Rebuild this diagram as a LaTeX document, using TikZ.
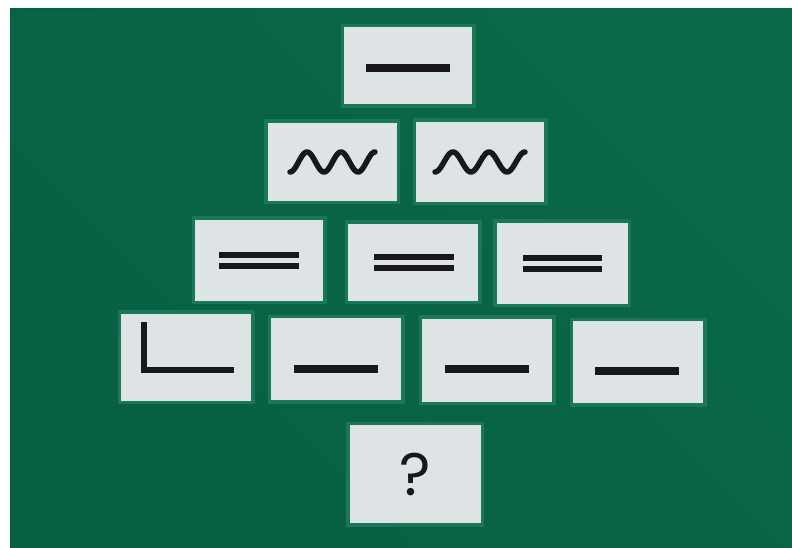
\documentclass[tikz,border=0pt]{standalone}
\usepackage{tikz}
\usepackage{fontspec}
\usetikzlibrary{calc,positioning}

\newfontfamily\askfont{Poppins}

\definecolor{board}{RGB}{10,104,72}
\definecolor{boarddark}{RGB}{6,84,60}
\definecolor{cardrim}{RGB}{26,120,86}
\definecolor{cardwhite}{RGB}{222,227,230}
\definecolor{ink}{RGB}{24,24,28}

\tikzset{
  card/.style={fill=cardwhite, inner sep=0pt,
    preaction={draw=cardrim, line width=7pt, rounded corners=4pt}},
  symbol/.style={ink, line width=7.5pt},
  thinsymbol/.style={ink, line width=5.5pt, line cap=round, line join=round}
}

\begin{document}
\begin{tikzpicture}[x=1pt,y=-1pt]
      \useasboundingbox (0,0) rectangle (792,548);
      \fill[white] (0,0) rectangle (792,548);
      \shade[left color=boarddark, right color=board, shading angle=135] (10,9) rectangle (792,548);
      \fill[board, opacity=.6] (10,9) rectangle (792,548);

      % top row
      \node[card, minimum width=128pt, minimum height=77pt] (cTop) at (408,66) {};
      \draw[symbol] ($(cTop)+(-42,2)$) -- ($(cTop)+(42,2)$);

      % waves
      \node[card, minimum width=129pt, minimum height=78pt] (cWaveL) at (332,162) {};
      \node[card, minimum width=128pt, minimum height=80pt] (cWaveR) at (480,162) {};
      \begin{scope}[shift={(cWaveL)}]
        \draw[thinsymbol] plot[domain=-42:43, samples=80] (\x,{10*cos((\x+42)*10.588)});
      \end{scope}
      \begin{scope}[shift={(cWaveR)}]
        \draw[thinsymbol] plot[domain=-45:45, samples=80] (\x,{10*cos((\x+45)*10)});
      \end{scope}

      % double lines
      \node[card, minimum width=128pt, minimum height=81pt] (cDblL) at (259,260) {};
      \node[card, minimum width=130pt, minimum height=77pt] (cDblM) at (413,262) {};
      \node[card, minimum width=131pt, minimum height=81pt] (cDblR) at (562,263) {};
      \draw[ink, line width=5.5pt] ($(cDblL)+(-40,-5)$) -- ($(cDblL)+(40,-5)$);
      \draw[ink, line width=5.5pt] ($(cDblL)+(-40,6)$) -- ($(cDblL)+(40,6)$);
      \draw[ink, line width=5.5pt] ($(cDblM)+(-39,-5)$) -- ($(cDblM)+(41,-5)$);
      \draw[ink, line width=5.5pt] ($(cDblM)+(-39,6)$) -- ($(cDblM)+(41,6)$);
      \draw[ink, line width=5.5pt] ($(cDblR)+(-39,-5)$) -- ($(cDblR)+(40,-5)$);
      \draw[ink, line width=5.5pt] ($(cDblR)+(-39,6)$) -- ($(cDblR)+(40,6)$);

      % bottom row
      \node[card, minimum width=130pt, minimum height=87pt] (cCorner) at (186,357) {};
      \node[card, minimum width=130pt, minimum height=82pt] (cBarL) at (336,359) {};
      \node[card, minimum width=130pt, minimum height=83pt] (cBarM) at (487,360) {};
      \node[card, minimum width=130pt, minimum height=82pt] (cBarR) at (638,362) {};
      \draw[ink, line width=6pt, line join=miter] ($(cCorner)+(-42,-35)$) -- ($(cCorner)+(-42,13)$) -- ($(cCorner)+(48,13)$);
      \draw[symbol] ($(cBarL)+(-42,10)$) -- ($(cBarL)+(42,10)$);
      \draw[symbol] ($(cBarM)+(-42,9)$) -- ($(cBarM)+(42,9)$);
      \draw[symbol] ($(cBarR)+(-43,9)$) -- ($(cBarR)+(41,9)$);

      % question
      \node[card, minimum width=131pt, minimum height=98pt] (cAsk) at (415,474) {};
      \node[ink, inner sep=0pt] (qMark) at (cAsk) {\fontsize{60}{66}\selectfont\askfont ?};
    \end{tikzpicture}
\end{document}
